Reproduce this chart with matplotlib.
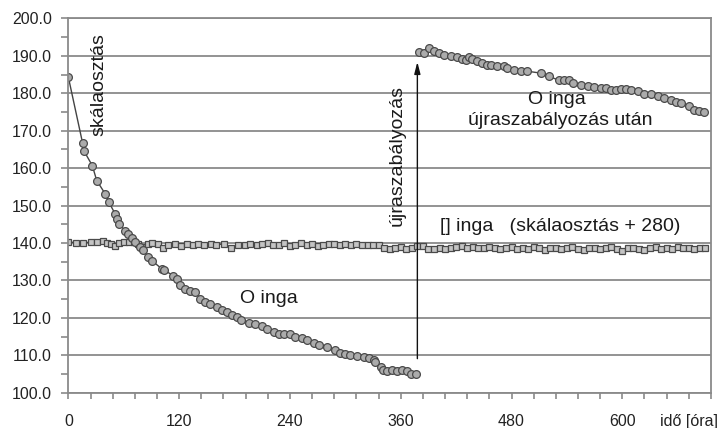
import numpy as np
import matplotlib.pyplot as plt
from matplotlib.ticker import MultipleLocator, FixedLocator, FixedFormatter

plt.rcParams['font.family'] = ['Liberation Sans', 'DejaVu Sans']

# O inga - before readjustment
t_o1 = [0, 15.5, 16.9, 25.9, 30.7, 40, 43.7, 50.6, 52.4, 55.2,
        61.4, 65, 68.7, 72.3, 77.7, 80.6, 86.7, 90.4, 101.2, 103.7,
        113.8, 117.5, 121.1, 126.5, 131.9, 137.4, 142.8, 148.2, 153.6, 160.9,
        166.3, 171.7, 177.2, 182.6, 186.9, 195.2, 202.5, 209.7, 215.1, 222.3,
        227.7, 233.2, 240.4, 245.8, 253.1, 258.5, 265.7, 271.1, 280.2, 289.3,
        294.7, 300.1, 305.5, 312.8, 320, 325.4, 330.8, 332.6, 338.1, 341,
        345.3, 350.8, 356.2, 361.6, 367, 370.6, 376.8]
v_o1 = [184.3, 166.6, 164.6, 160.7, 156.7, 153.1, 151.0, 147.8, 146.5, 145.1,
        143.3, 142.5, 141.4, 140.2, 138.9, 138.2, 136.2, 135.3, 133.1, 132.7,
        131.3, 130.4, 128.7, 127.8, 127.3, 126.9, 125.1, 124.2, 123.8, 122.9,
        122.0, 121.5, 120.7, 120.2, 119.5, 118.6, 118.3, 117.7, 117.1, 116.2,
        115.8, 115.6, 115.8, 114.9, 114.5, 114.0, 113.3, 112.7, 112.2, 111.3,
        110.6, 110.3, 110.2, 109.8, 109.5, 109.4, 108.8, 108.2, 106.9, 106.0,
        105.8, 106.0, 105.8, 106.0, 105.8, 105.1, 104.9]

# O inga - after readjustment
t_o2 = [379.6, 385, 390.5, 395.9, 401.3, 406.7, 414, 421.3, 426.7, 430.3,
        433.9, 437.5, 443, 448.4, 453.8, 457.4, 464.7, 471.8, 475.5, 482.7,
        490, 497.2, 511.7, 520.7, 531.5, 537, 542.4, 546.1, 555.1, 562.3,
        569.5, 576.8, 582.2, 587.6, 593, 598.5, 603.9, 609.3, 616.6, 623.7,
        631, 638.3, 645.4, 652.7, 658.1, 663.5, 672.6, 678, 683.4, 688.8]
v_o2 = [191.0, 190.8, 192.1, 191.2, 190.8, 190.3, 190.1, 189.7, 189.2, 188.8,
        189.7, 189.1, 188.6, 188.1, 187.7, 187.5, 187.4, 187.2, 186.8, 186.3,
        186.1, 185.9, 185.4, 184.5, 183.5, 183.6, 183.5, 182.8, 182.3, 181.9,
        181.7, 181.4, 181.4, 181.0, 180.8, 181.2, 181.2, 180.8, 180.6, 179.9,
        179.7, 179.3, 178.8, 178.3, 177.6, 177.4, 176.5, 175.6, 175.4, 175.1]

# [] inga (skálaosztás + 280)
t_sq = [0, 8, 16, 24, 31, 38, 42, 46,
        50, 55, 60, 66, 71, 75, 80, 86, 91, 97,
        102, 108, 115, 122, 128, 135, 140, 147, 155, 160,
        169, 176, 184, 191, 197, 204, 210, 216, 222, 228,
        234, 240, 246, 252, 258, 264, 270, 276, 282, 288,
        294, 300, 306, 312, 318, 324, 330, 336, 342, 348,
        354, 360, 366, 372, 378, 384, 390, 396, 402, 408,
        414, 420, 426, 432, 438, 444, 450, 456, 462, 468,
        474, 480, 486, 492, 498, 504, 510, 516, 522, 528,
        534, 540, 546, 552, 558, 564, 570, 576, 582, 588,
        594, 600, 606, 612, 618, 624, 630, 636, 642, 648,
        654, 660, 666, 672, 678, 684, 690]
v_sq = [140.3, 140.1, 140.1, 140.2, 140.3, 140.5, 140.1, 139.8,
        139.3, 139.9, 140.2, 140.4, 140.2, 139.8, 139.0, 139.8, 140.1, 139.8,
        138.8, 139.6, 139.7, 139.1, 139.7, 139.5, 139.8, 139.4, 139.7, 139.5,
        139.8, 138.8, 139.5, 139.5, 139.7, 139.4, 139.7, 140.0, 139.6, 139.4,
        140.1, 139.2, 139.6, 139.9, 139.4, 139.8, 139.2, 139.6, 139.8, 139.7,
        139.6, 139.7, 139.5, 139.7, 139.6, 139.6, 139.4, 139.6, 138.6, 138.3,
        138.6, 138.9, 138.4, 138.8, 139.2, 139.1, 138.5, 138.3, 138.8, 138.5,
        138.7, 139.0, 139.2, 138.8, 138.9, 138.7, 138.6, 139.0, 138.6, 138.3,
        138.7, 138.9, 138.5, 138.7, 138.4, 138.9, 138.6, 138.2, 138.7, 138.8,
        138.4, 138.6, 138.9, 138.5, 138.2, 138.6, 138.8, 138.4, 138.7, 138.9,
        138.3, 137.9, 138.6, 138.8, 138.5, 138.2, 138.6, 138.9, 138.4, 138.6,
        138.5, 138.9, 138.6, 138.8, 138.4, 138.7, 138.8]

x_labels = {0: "0", 120: "120", 240: "240", 360: "360", 480: "480", 600: "600", 672: "idő [óra]"}

fig = plt.figure(figsize=(7.22, 4.28), dpi=100)
ax = fig.add_axes([0.0947, 0.0825, 0.890, 0.8743])

gc = "#8a8a8a"
ax.yaxis.set_major_locator(MultipleLocator(10))
ax.yaxis.set_minor_locator(MultipleLocator(5))
ax.grid(axis="y", which="major", color=gc, linewidth=1.3)
ax.set_axisbelow(True)

mk = dict(color="#444444", linewidth=1.0, markeredgecolor="#4a4a4a", markeredgewidth=0.9)
ax.plot(t_sq, v_sq, "s-", markersize=3.8, markerfacecolor="#c4c4c4", **mk)
ax.plot(t_o1, v_o1, "o-", markersize=5.6, markerfacecolor="#ababab", **mk)
ax.plot(t_o2, v_o2, "o-", markersize=5.6, markerfacecolor="#ababab", **mk)

ax.set_xlim(0, 696)
ax.set_ylim(100, 200)
ticks = list(range(0, 697, 24))
ax.xaxis.set_major_locator(FixedLocator(ticks))
ax.xaxis.set_major_formatter(FixedFormatter([x_labels.get(t, "") for t in ticks]))
ax.yaxis.set_major_formatter(plt.FuncFormatter(lambda v, p: "%.1f" % v))

for s in ax.spines.values():
    s.set_color(gc)
    s.set_linewidth(1.3)
ax.tick_params(axis="both", which="both", direction="out", color=gc, width=1.2, labelsize=11.5, labelcolor="#222222")
ax.tick_params(axis="x", length=4, pad=11)
ax.tick_params(axis="y", which="major", length=5, pad=7)
ax.tick_params(axis="y", which="minor", length=5)

tc = "#1a1a1a"
fs = 14
ax.text(33, 182.3, "skálaosztás", rotation=90, ha="center", va="center", fontsize=fs, color=tc)
ax.text(217.6, 125.1, "O inga", ha="center", va="center", fontsize=fs, color=tc)
ax.text(403, 144.4, "[] inga   (skálaosztás + 280)", ha="left", va="center", fontsize=fs, color=tc)
ax.text(356.4, 163.3, "újraszabályozás", rotation=90, ha="center", va="center", fontsize=fs, color=tc)
ax.text(529, 178.3, "O inga", ha="center", va="center", fontsize=fs, color=tc)
ax.text(533, 172.7, "újraszabályozás után", ha="center", va="center", fontsize=fs, color=tc)
ax.annotate("", xy=(378, 188.4), xytext=(378, 109.1),
            arrowprops=dict(arrowstyle="-|>,head_length=0.7,head_width=0.18", color="#111111", lw=1.0,
                            shrinkA=0, shrinkB=0))

fig.savefig("out.png", dpi=100)
